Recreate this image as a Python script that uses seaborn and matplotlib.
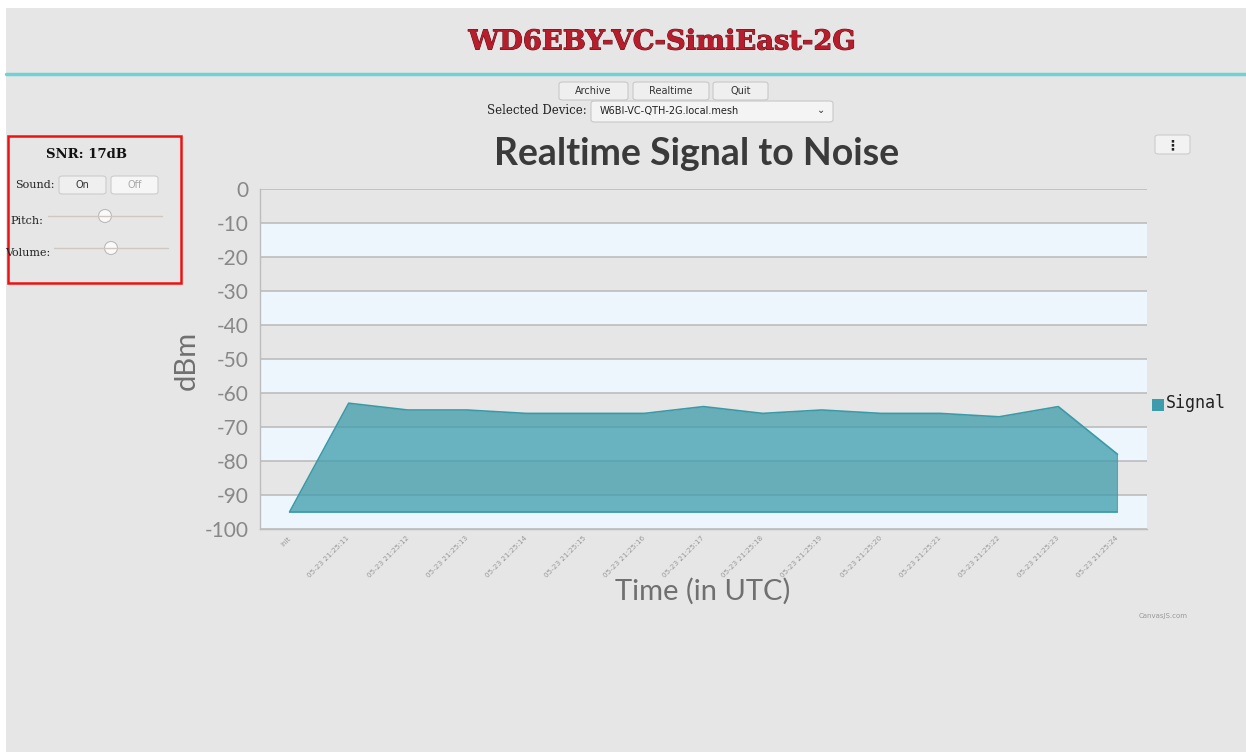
import numpy as np
import pandas as pd
import seaborn as sns
import matplotlib.pyplot as plt
import matplotlib.patheffects as pe
from matplotlib.patches import Rectangle, FancyBboxPatch, Ellipse

# data
time_labels = ["Init", "05-23 21:25:11", "05-23 21:25:12", "05-23 21:25:13", "05-23 21:25:14",
               "05-23 21:25:15", "05-23 21:25:16", "05-23 21:25:17", "05-23 21:25:18",
               "05-23 21:25:19", "05-23 21:25:20", "05-23 21:25:21", "05-23 21:25:22",
               "05-23 21:25:23", "05-23 21:25:24"]
signal = [-95, -63, -65, -65, -66, -66, -66, -64, -66, -65, -66, -66, -67, -64, -78]
baseline = -95
y_ticks = list(range(0, -101, -10))

df = pd.DataFrame({"idx": np.arange(len(signal)), "signal": signal})

sns.set_style("white")
plt.rcParams['font.family'] = ['Lato', 'DejaVu Sans']

W, H = 1246, 752
fig = plt.figure(figsize=(W / 100, H / 100), dpi=100)
fig.patch.set_facecolor("white")

def fx(px):
    return px / W

def fy(py):
    return 1 - py / H

# page background
fig.patches.append(Rectangle((fx(6), 0), fx(W - 6), fy(8), transform=fig.transFigure,
                             facecolor="#e6e6e6", edgecolor="none", zorder=-5))
# header line
fig.lines.append(plt.Line2D([fx(6), 1], [fy(74), fy(74)], transform=fig.transFigure,
                            color="#6fd3d6", linewidth=2.5))
fig.text(fx(662), fy(42), "WD6EBY-VC-SimiEast-2G", ha="center", va="center",
         family="DejaVu Serif", fontsize=19.7, weight="bold", color="#b81d2c",
         path_effects=[pe.withStroke(linewidth=0.7, foreground="#5a0f18")])

# buttons
for x0, x1, lbl in [(559, 628, "Archive"), (633, 709, "Realtime"), (713, 768, "Quit")]:
    fig.patches.append(FancyBboxPatch((fx(x0), fy(100)), fx(x1 - x0), fy(82) - fy(100),
                                      boxstyle="round,pad=0,rounding_size=0.003",
                                      transform=fig.transFigure, facecolor="#efefef",
                                      edgecolor="#c8c8c8", linewidth=0.8))
    fig.text(fx((x0 + x1) / 2), fy(91), lbl, ha="center", va="center", fontsize=7,
             family="DejaVu Sans", color="#333333")
fig.text(fx(587), fy(111), "Selected Device:", ha="right", va="center", fontsize=8.5,
         family="DejaVu Serif", color="#222222")
fig.patches.append(FancyBboxPatch((fx(591), fy(122)), fx(242), fy(101) - fy(122),
                                  boxstyle="round,pad=0,rounding_size=0.003",
                                  transform=fig.transFigure, facecolor="#f4f4f4",
                                  edgecolor="#c8c8c8", linewidth=0.8))
fig.text(fx(600), fy(111), "W6BI-VC-QTH-2G.local.mesh", ha="left", va="center",
         fontsize=7, family="DejaVu Sans", color="#222222")
fig.text(fx(821), fy(110), "\u2304", ha="center", va="center", fontsize=7,
         family="DejaVu Sans", color="#333333")

# left control box
fig.patches.append(Rectangle((fx(8), fy(283)), fx(173), fy(136) - fy(283),
                             transform=fig.transFigure, facecolor="none",
                             edgecolor="#ee1111", linewidth=1.8))
fig.text(fx(86), fy(155), "SNR: 17dB", ha="center", va="center", fontsize=9.5,
         weight="bold", family="DejaVu Serif", color="#111111")
fig.text(fx(55), fy(185), "Sound:", ha="right", va="center", fontsize=8,
         family="DejaVu Serif", color="#222222")
for x0, x1, lbl, c in [(59, 106, "On", "#333333"), (111, 158, "Off", "#aaaaaa")]:
    fig.patches.append(FancyBboxPatch((fx(x0), fy(194)), fx(x1 - x0), fy(176) - fy(194),
                                      boxstyle="round,pad=0,rounding_size=0.003",
                                      transform=fig.transFigure,
                                      facecolor="#efefef" if lbl == "On" else "#f6f6f6",
                                      edgecolor="#cccccc", linewidth=0.8))
    fig.text(fx((x0 + x1) / 2), fy(185), lbl, ha="center", va="center", fontsize=7,
             family="DejaVu Sans", color=c)
fig.text(fx(10), fy(221), "Pitch:", ha="left", va="center", fontsize=8,
         family="DejaVu Serif", color="#222222")
fig.text(fx(50), fy(253), "Volume:", ha="right", va="center", fontsize=8,
         family="DejaVu Serif", color="#222222")
for x0, x1, xk, yy in [(48, 162, 105, 216), (54, 168, 111, 248)]:
    fig.lines.append(plt.Line2D([fx(x0), fx(x1)], [fy(yy), fy(yy)], transform=fig.transFigure,
                                color="#cfc8c0", linewidth=1))
    fig.patches.append(Ellipse((fx(xk), fy(yy)), 13 / W, 13 / H, transform=fig.transFigure,
                               facecolor="#fafafa", edgecolor="#bbbbbb", linewidth=0.8))

# menu button
fig.patches.append(FancyBboxPatch((fx(1155), fy(154)), fx(35), fy(135) - fy(154),
                                  boxstyle="round,pad=0,rounding_size=0.003",
                                  transform=fig.transFigure, facecolor="#f2f2f2",
                                  edgecolor="#cccccc", linewidth=0.8))
fig.text(fx(1172), fy(145), "\u22ee", ha="center", va="center", fontsize=10,
         weight="bold", family="DejaVu Sans", color="#222222")

# chart
ax = fig.add_axes([fx(260), fy(529), fx(1147 - 260), fy(189) - fy(529)])
ax.set_zorder(2)
ax.set_facecolor("#e6e6e6")
for lo in range(-20, -101, -20):
    ax.axhspan(lo, lo + 10, color="#eef6fd", zorder=0, linewidth=0)
for t in y_ticks:
    ax.axhline(t, color="#bdbdbd", linewidth=1.2, zorder=1)

line_color = "#3a9aa8"
ax.fill_between(df["idx"], df["signal"], baseline, color="#3c9cab", alpha=0.75,
                linewidth=0, zorder=2)
sns.lineplot(data=df, x="idx", y="signal", color=line_color, linewidth=1.2, ax=ax, zorder=3)
ax.plot([0, len(signal) - 1], [baseline, baseline], color=line_color, linewidth=1.2, zorder=3)
ax.plot([len(signal) - 1, len(signal) - 1], [signal[-1], baseline], color=line_color,
        linewidth=0.8, alpha=0.5, zorder=3)

ax.set_xlim(-0.5, len(signal) - 1 + 0.5)
ax.set_ylim(-100, 0)
ax.set_yticks(y_ticks)
ax.set_yticklabels([str(t) for t in y_ticks], fontsize=15, color="#888888")
ax.set_xticks(df["idx"])
ax.set_xticklabels(time_labels, rotation=45, ha="right", va="center", fontsize=5.2,
                   color="#999999", family="DejaVu Sans", rotation_mode="anchor")
ax.tick_params(axis="y", length=6, color="#bdbdbd", pad=2, width=1)
ax.tick_params(axis="x", length=5, color="#bdbdbd", pad=1, width=1)
for s in ["top", "right"]:
    ax.spines[s].set_visible(False)
ax.spines["left"].set_color("#bdbdbd")
ax.spines["bottom"].set_color("#bdbdbd")
ax.spines["left"].set_linewidth(1)
ax.spines["bottom"].set_linewidth(1)
ax.set_xlabel("")
ax.set_ylabel("")

fig.text(fx(697), fy(154), "Realtime Signal to Noise", ha="center", va="center",
         fontsize=27, weight="bold", color="#3a3a3a")
fig.text(fx(187), fy(360), "dBm", ha="center", va="center", rotation=90,
         fontsize=21, color="#707070")
fig.text(fx(703), fy(591), "Time (in UTC)", ha="center", va="center",
         fontsize=21, color="#707070")

# legend
fig.patches.append(Rectangle((fx(1152), fy(411)), fx(12), fy(399) - fy(411),
                             transform=fig.transFigure, facecolor="#3c9cab",
                             edgecolor="none"))
fig.text(fx(1166), fy(403), "Signal", ha="left", va="center", fontsize=12,
         family="DejaVu Sans Mono", color="#222222")

fig.text(fx(1163), fy(616), "CanvasJS.com", ha="center", va="center", fontsize=5,
         family="DejaVu Sans", color="#999999")

fig.savefig("out.png", dpi=100, facecolor=fig.get_facecolor())
